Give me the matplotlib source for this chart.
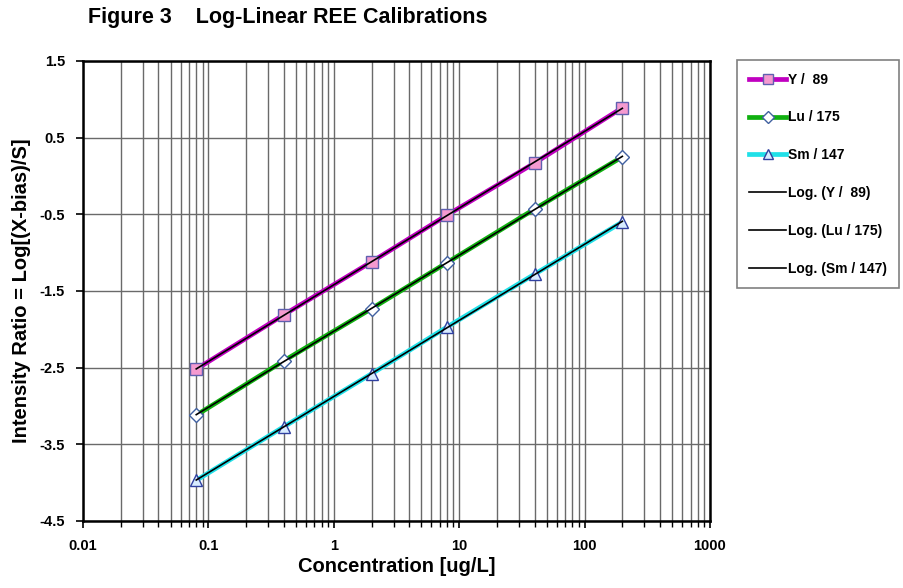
import numpy as np
import matplotlib
matplotlib.use("Agg")
import matplotlib.pyplot as plt
from matplotlib.ticker import LogLocator, FixedLocator, NullFormatter, FixedFormatter

plt.rcParams['font.family'] = ['Liberation Sans', 'DejaVu Sans']

# Calibration standards (ug/L)
conc = [0.08, 0.4, 2, 8, 40, 200]

# Log intensity ratios per isotope
y89 = [-2.52, -1.81, -1.12, -0.51, 0.17, 0.89]
lu175 = [-3.12, -2.41, -1.73, -1.13, -0.43, 0.25]
sm147 = [-3.97, -3.27, -2.58, -1.97, -1.28, -0.60]

series_names = ["Y /  89", "Lu / 175", "Sm / 147"]
trend_names = ["Log. (Y /  89)", "Log. (Lu / 175)", "Log. (Sm / 147)"]

x_ticks = [0.01, 0.1, 1, 10, 100, 1000]
x_labels = ["0.01", "0.1", "1", "10", "100", "1000"]
y_ticks = [1.5, 0.5, -0.5, -1.5, -2.5, -3.5, -4.5]
y_labels = ["1.5", "0.5", "-0.5", "-1.5", "-2.5", "-3.5", "-4.5"]

fig = plt.figure(figsize=(9.04, 5.88), dpi=100)
ax = fig.add_axes([83/904, 1 - 521/588, (710 - 83)/904, (521 - 61)/588])

ax.set_xscale("log")
ax.set_xlim(0.01, 1000)
ax.set_ylim(-4.5, 1.5)

# Grid: every decade and sub-decade line on x, each unit on y
ax.xaxis.set_major_locator(FixedLocator(x_ticks))
ax.xaxis.set_major_formatter(FixedFormatter(x_labels))
ax.xaxis.set_minor_locator(LogLocator(base=10, subs=np.arange(2, 10), numticks=20))
ax.xaxis.set_minor_formatter(NullFormatter())
ax.yaxis.set_major_locator(FixedLocator(y_ticks))
ax.yaxis.set_major_formatter(FixedFormatter(y_labels))
ax.grid(True, which="both", axis="x", color="#6a6a6a", lw=1.0)
ax.grid(True, which="major", axis="y", color="#6a6a6a", lw=1.0)
ax.set_axisbelow(True)

for s in ax.spines.values():
    s.set_linewidth(1.8)
    s.set_color("black")

ax.tick_params(axis="both", which="major", direction="out", length=5, width=1.2,
               labelsize=10.5, pad=8)
ax.tick_params(axis="x", which="minor", direction="out", length=4, width=1.0)
for lab in ax.get_xticklabels() + ax.get_yticklabels():
    lab.set_fontweight("bold")

styles = [
    dict(color="#c000c0", marker="s", mfc="#f59ad0", mec="#6060b0", ms=9),
    dict(color="#10b010", marker="D", mfc="white", mec="#4060a0", ms=7),
    dict(color="#20e0e8", marker="^", mfc="#d8ecff", mec="#3040a0", ms=9),
]

handles = []
data = [y89, lu175, sm147]
for vals, name, st in zip(data, series_names, styles):
    h, = ax.plot(conc, vals, lw=3.4, label=name, zorder=3, **st)
    handles.append(h)

# Logarithmic trendlines: y = a*log10(x) + b
lx = np.log10(conc)
xs = np.logspace(np.log10(conc[0]), np.log10(conc[-1]), 50)
trend_handles = []
for vals, name in zip(data, trend_names):
    a, b = np.polyfit(lx, vals, 1)
    h, = ax.plot(xs, a*np.log10(xs) + b, color="black", lw=1.2, label=name, zorder=4)
    trend_handles.append(h)

ax.set_xlabel("Concentration [ug/L]", fontsize=14.5, fontweight="bold", labelpad=3)
ax.set_ylabel("Intensity Ratio = Log[(X-bias)/S]", fontsize=14.5, fontweight="bold", labelpad=6)

fig.text(88/904, 1 - 18/588, "Figure 3    Log-Linear REE Calibrations",
         fontsize=15.5, fontweight="bold", va="center", ha="left")

leg = fig.legend(handles + trend_handles, series_names + trend_names,
                 loc="upper left", bbox_to_anchor=(737/904, 1 - 60/588),
                 frameon=True, fancybox=False, edgecolor="#606060",
                 prop=dict(size=10, weight="bold"), labelspacing=1.72,
                 handlelength=2.6, handletextpad=0.15, borderpad=0.9,
                 borderaxespad=0.0, markerscale=0.85)
leg.get_frame().set_linewidth(1.2)

fig.savefig("out.png", dpi=100)
